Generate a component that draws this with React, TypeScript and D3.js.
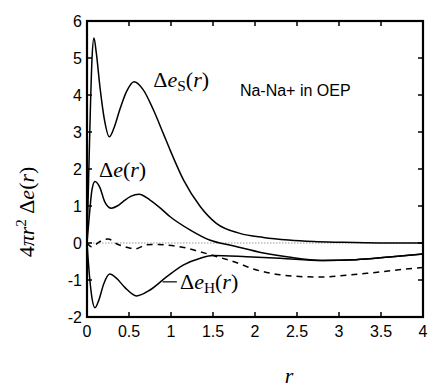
import React, { useRef, useEffect } from 'react';
import * as d3 from 'd3';

// Δe_S(r)
const rS = [0, 0.02, 0.04, 0.06, 0.083, 0.11, 0.155, 0.21, 0.265, 0.32, 0.39, 0.47, 0.56, 0.67, 0.79, 0.91, 0.99, 1.15, 1.35, 1.54, 1.82, 2.1, 2.4, 2.7, 3, 3.5, 4];
const vS = [0, 1.8, 3.6, 5.0, 5.54, 5.15, 4.2, 3.3, 2.87, 3.1, 3.6, 4.09, 4.36, 4.14, 3.6, 2.95, 2.51, 1.7, 0.98, 0.53, 0.26, 0.15, 0.08, 0.04, 0.02, 0.0, 0.0];

// Δe(r)
const rE = [0, 0.03, 0.06, 0.095, 0.155, 0.21, 0.29, 0.36, 0.43, 0.52, 0.62, 0.75, 0.87, 0.99, 1.23, 1.46, 1.75, 2.1, 2.4, 2.8, 3.2, 3.6, 4];
const vE = [0, 0.8, 1.45, 1.66, 1.49, 1.12, 0.94, 1.0, 1.12, 1.26, 1.32, 1.16, 0.95, 0.71, 0.35, 0.08, -0.08, -0.27, -0.38, -0.47, -0.45, -0.38, -0.3];

// Δe_H(r)
const rH = [0, 0.03, 0.06, 0.095, 0.14, 0.2, 0.27, 0.35, 0.45, 0.59, 0.75, 0.95, 1.15, 1.35, 1.5, 1.9, 2.3, 2.8, 3.2, 3.6, 4];
const vH = [0, -0.9, -1.5, -1.75, -1.55, -1.1, -0.84, -0.95, -1.2, -1.43, -1.27, -0.91, -0.59, -0.41, -0.34, -0.37, -0.41, -0.47, -0.45, -0.38, -0.3];

// dashed curve
const rD = [0, 0.055, 0.155, 0.25, 0.37, 0.45, 0.57, 0.71, 0.85, 1.01, 1.17, 1.32, 1.55, 1.74, 2.02, 2.3, 2.57, 2.8, 3.05, 3.33, 3.69, 4];
const vD = [0, -0.1, 0.04, 0.11, -0.04, -0.1, -0.16, -0.05, -0.04, -0.07, -0.13, -0.22, -0.37, -0.5, -0.73, -0.86, -0.91, -0.92, -0.88, -0.82, -0.73, -0.66];

const xTicks = [0, 0.5, 1, 1.5, 2, 2.5, 3, 3.5, 4];
const yTicks = [-2, -1, 0, 1, 2, 3, 4, 5, 6];

const W = 429;
const H = 387;
const serif = '"Liberation Serif", "Times New Roman", serif';
const sans = '"Liberation Sans", Arial, sans-serif';

const App = () => {
  const svgRef = useRef<SVGSVGElement>(null);

  useEffect(() => {
    const svg = d3.select(svgRef.current);
    svg.selectAll('*').remove();

    const x = d3.scaleLinear().domain([0, 4]).range([87, 423]);
    const y = d3.scaleLinear().domain([-2, 6]).range([317, 21]);

    const line = d3.line<[number, number]>()
      .x(d => x(d[0]))
      .y(d => y(d[1]))
      .curve(d3.curveMonotoneX);

    const zip = (rs: number[], vs: number[]) => rs.map((r, i) => [r, vs[i]] as [number, number]);

    // zero line, dotted
    svg.append('line')
      .attr('x1', x(0)).attr('x2', x(4))
      .attr('y1', y(0)).attr('y2', y(0))
      .attr('stroke', '#999').attr('stroke-width', 1)
      .attr('stroke-dasharray', '1.5,1.5');

    const series = [
      { d: zip(rS, vS), dash: null },
      { d: zip(rE, vE), dash: null },
      { d: zip(rH, vH), dash: null },
      { d: zip(rD, vD), dash: '6,5' },
    ];
    series.forEach(s => {
      svg.append('path')
        .attr('d', line(s.d))
        .attr('fill', 'none')
        .attr('stroke', '#000')
        .attr('stroke-width', 1.5)
        .attr('stroke-dasharray', s.dash);
    });

    // frame
    svg.append('rect')
      .attr('x', x(0)).attr('y', y(6))
      .attr('width', x(4) - x(0)).attr('height', y(-2) - y(6))
      .attr('fill', 'none').attr('stroke', '#000').attr('stroke-width', 2.2);

    // ticks on all four sides, pointing in
    const tl = 5;
    xTicks.forEach(t => {
      svg.append('line').attr('x1', x(t)).attr('x2', x(t)).attr('y1', y(-2)).attr('y2', y(-2) - tl)
        .attr('stroke', '#000').attr('stroke-width', 1.5);
      svg.append('line').attr('x1', x(t)).attr('x2', x(t)).attr('y1', y(6)).attr('y2', y(6) + tl)
        .attr('stroke', '#000').attr('stroke-width', 1.5);
      svg.append('text')
        .attr('x', x(t)).attr('y', y(-2) + 20)
        .attr('text-anchor', 'middle')
        .attr('font-family', sans).attr('font-size', 16)
        .text(String(t));
    });
    yTicks.forEach(t => {
      svg.append('line').attr('x1', x(0)).attr('x2', x(0) + tl).attr('y1', y(t)).attr('y2', y(t))
        .attr('stroke', '#000').attr('stroke-width', 1.5);
      svg.append('line').attr('x1', x(4)).attr('x2', x(4) - tl).attr('y1', y(t)).attr('y2', y(t))
        .attr('stroke', '#000').attr('stroke-width', 1.5);
      svg.append('text')
        .attr('x', x(0) - 5).attr('y', y(t) + 6)
        .attr('text-anchor', 'end')
        .attr('font-family', sans).attr('font-size', 16)
        .text(String(t));
    });

    // math-style labels
    const mathLabel = (px: number, py: number, sub: string | null, size: number) => {
      const t = svg.append('text')
        .attr('x', px).attr('y', py)
        .attr('font-family', serif).attr('font-size', size);
      t.append('tspan').text('Δ');
      t.append('tspan').attr('font-style', 'italic').text('e');
      if (sub) {
        t.append('tspan').attr('font-size', size * 0.7).attr('dy', 4).text(sub);
        t.append('tspan').attr('dy', -4).text('(');
      } else {
        t.append('tspan').text('(');
      }
      t.append('tspan').attr('font-style', 'italic').text('r');
      t.append('tspan').text(')');
      return t;
    };

    mathLabel(x(0.79), y(4.22), 'S', 22);
    mathLabel(x(0.143), y(1.78), null, 22);
    mathLabel(x(1.107), y(-1.24), 'H', 22);

    // leader to Δe_H curve
    svg.append('line')
      .attr('x1', x(0.9)).attr('x2', x(1.07))
      .attr('y1', y(-1.05)).attr('y2', y(-1.05))
      .attr('stroke', '#000').attr('stroke-width', 1.2);

    svg.append('text')
      .attr('x', x(1.82)).attr('y', y(3.97))
      .attr('font-family', sans).attr('font-size', 16)
      .text('Na-Na+ in OEP');

    // axis titles
    svg.append('text')
      .attr('x', 289).attr('y', 383)
      .attr('text-anchor', 'middle')
      .attr('font-family', serif).attr('font-style', 'italic').attr('font-size', 22)
      .text('r');

    const yl = svg.append('text')
      .attr('transform', 'translate(34,212) rotate(-90)')
      .attr('text-anchor', 'middle')
      .attr('font-family', serif).attr('font-size', 22);
    yl.append('tspan').text('4');
    yl.append('tspan').attr('font-style', 'italic').text('πr');
    yl.append('tspan').attr('font-size', 15).attr('dy', -8).text('2');
    yl.append('tspan').attr('dy', 8).text(' Δ');
    yl.append('tspan').attr('font-style', 'italic').text('e');
    yl.append('tspan').text('(');
    yl.append('tspan').attr('font-style', 'italic').text('r');
    yl.append('tspan').text(')');
  }, []);

  return (
    <svg ref={svgRef} width={W} height={H}
      style={{ position: 'absolute', left: 0, top: 0, background: '#fff' }} />
  );
};

export default App;
